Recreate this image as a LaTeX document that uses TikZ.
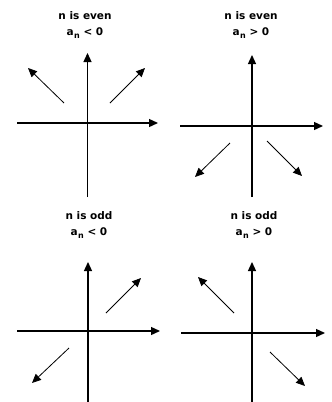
\documentclass[tikz,border=0pt]{standalone}
\usepackage{fontspec}
\setmainfont{DejaVu Sans}
\usetikzlibrary{arrows.meta}
\tikzset{
  axis/.style={line width=1.3pt, -{Triangle[length=9pt,width=8pt]}},
  ray/.style={line width=0.8pt, -{Triangle[length=9pt,width=8pt]}},
  ttl/.style={align=center, font=\bfseries\fontsize{10.5}{16}\selectfont},
}
\newcommand{\an}{a\kern0.4pt\raisebox{-0.45ex}{\fontsize{8}{8}\selectfont n}}

\begin{document}
\begin{tikzpicture}[x=1pt, y=-1pt]
  \useasboundingbox (0,0) rectangle (332,402);
  % top left
  \node[ttl] (tlT) at (85,25) {n is even\\\an{} < 0};
  \coordinate (tlN) at (87.5,53);  \coordinate (tlS) at (87.5,197);
  \coordinate (tlW) at (17,123);   \coordinate (tlE) at (158,123);
  \coordinate (tlA) at (64,103);   \coordinate (tlB) at (28,68);
  \coordinate (tlC) at (110,103);  \coordinate (tlD) at (145,68);
  \draw[axis] (tlS) -- (tlN);
  \draw[axis] (tlW) -- (tlE);
  \draw[ray] (tlA) -- (tlB);
  \draw[ray] (tlC) -- (tlD);
  % top right
  \node[ttl] (trT) at (251,25) {n is even\\\an{} > 0};
  \coordinate (trN) at (252,55);   \coordinate (trS) at (252,197);
  \coordinate (trW) at (180,126);  \coordinate (trE) at (323,126);
  \coordinate (trA) at (230,143);  \coordinate (trB) at (195,177);
  \coordinate (trC) at (267,141);  \coordinate (trD) at (302,176);
  \draw[axis] (trS) -- (trN);
  \draw[axis] (trW) -- (trE);
  \draw[ray] (trA) -- (trB);
  \draw[ray] (trC) -- (trD);
  % bottom left
  \node[ttl] (blT) at (89,225) {n is odd\\\an{} < 0};
  \coordinate (blN) at (88,262);   \coordinate (blS) at (88,402);
  \coordinate (blW) at (17,331);   \coordinate (blE) at (160,331);
  \coordinate (blA) at (106,313);  \coordinate (blB) at (141,278);
  \coordinate (blC) at (69,348);   \coordinate (blD) at (32,383);
  \draw[axis] (blS) -- (blN);
  \draw[axis] (blW) -- (blE);
  \draw[ray] (blA) -- (blB);
  \draw[ray] (blC) -- (blD);
  % bottom right
  \node[ttl] (brT) at (254,225) {n is odd\\\an{} > 0};
  \coordinate (brN) at (252,262);  \coordinate (brS) at (252,402);
  \coordinate (brW) at (181,333);  \coordinate (brE) at (325,333);
  \coordinate (brA) at (234,313);  \coordinate (brB) at (198,277);
  \coordinate (brC) at (270,352);  \coordinate (brD) at (305,386);
  \draw[axis] (brS) -- (brN);
  \draw[axis] (brW) -- (brE);
  \draw[ray] (brA) -- (brB);
  \draw[ray] (brC) -- (brD);
\end{tikzpicture}
\end{document}
